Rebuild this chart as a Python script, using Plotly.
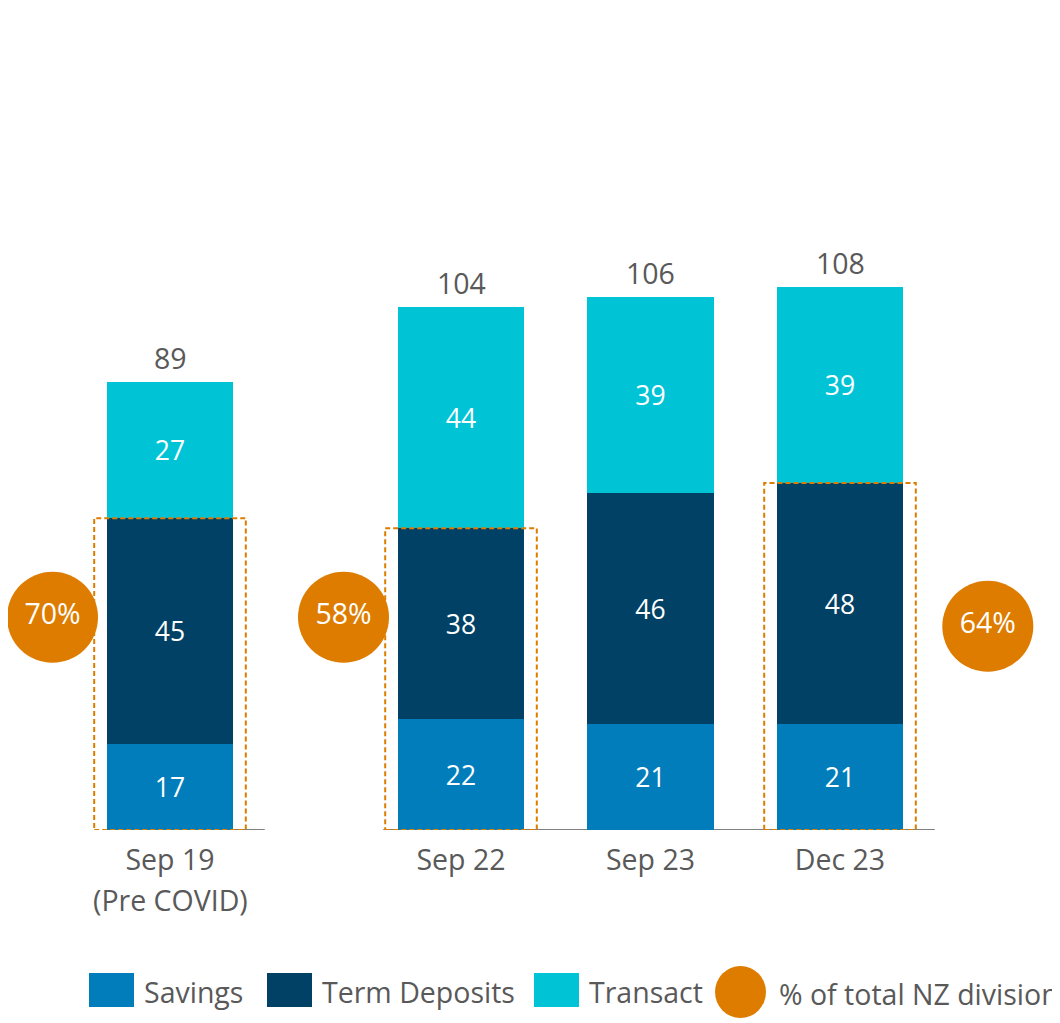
import plotly.graph_objects as go

# deposit balances ($b) by period
pre_labels = ["Sep 19"]
pre_note = "(Pre COVID)"
pre_savings = [17]
pre_term = [45]
pre_transact = [27]

post_labels = ["Sep 22", "Sep 23", "Dec 23"]
post_savings = [22, 21, 21]
post_term = [38, 46, 48]
post_transact = [44, 39, 39]

# % of total NZ division (savings + term deposits), shown as circles
pct_pre = [70]
pct_post = [58, None, 64]

c_sav = "#007DBA"
c_term = "#004165"
c_trans = "#00C4D6"
c_orange = "#DE7C00"
c_text = "#595959"
FONT = "Open Sans"
FS = 28.5      # labels, totals, legend
FS_IN = 26.5   # numbers inside bars

# page has an 8px body margin, so the figure is drawn 8px in from the corner
OFF = 8
W, H = 1060 - OFF, 1023 - OFF
BASE = 830 - OFF          # baseline in figure pixels
PXU = 5.03                # px per $b
scale = 189.5             # px per category

fig = go.Figure()

groups = [
    ("x", "y", pre_savings, pre_term, pre_transact, pct_pre),
    ("x2", "y2", post_savings, post_term, post_transact, pct_post),
]

for xa, ya, sav, term, trans, pct in groups:
    xs = list(range(len(sav)))
    for vals, col in [(sav, c_sav), (term, c_term), (trans, c_trans)]:
        fig.add_trace(go.Bar(
            x=xs, y=vals, xaxis=xa, yaxis=ya,
            width=0.665, marker=dict(color=col, line=dict(width=0)),
            text=vals, textposition="inside", insidetextanchor="middle",
            textfont=dict(color="white", size=FS_IN, family=FONT),
            textangle=0, showlegend=False, hoverinfo="skip"))
    for i in xs:
        tot = sav[i] + term[i] + trans[i]
        fig.add_annotation(x=i, y=tot, xref=xa, yref=ya, text=str(tot),
                           showarrow=False, yanchor="bottom", yshift=3,
                           font=dict(size=FS, color=c_text, family=FONT))
        # dashed box around savings + term deposits
        if pct[i] is not None:
            fig.add_shape(type="rect", xref=xa, yref=ya,
                          x0=i - 0.40, x1=i + 0.40, y0=0, y1=sav[i] + term[i],
                          line=dict(color=c_orange, width=2, dash="5px,3px"),
                          layer="above")
    # baseline
    fig.add_shape(type="line", xref=xa, yref=ya,
                  x0=-0.41 if xa == "x2" else -0.343, x1=len(sav) - 0.5,
                  y0=0, y1=0, line=dict(color="#7F7F7F", width=2), layer="below")
    # percentage circles
    cx, cy, ct = [], [], []
    for i, p in enumerate(pct):
        if p is None:
            continue
        right = len(pct) > 1 and i == len(pct) - 1
        cx.append(i + (0.78 if right else -0.62))
        cy.append(40.5 if right else 42.3)
        ct.append(f"{p}%")
    fig.add_trace(go.Scatter(
        x=cx, y=cy, xaxis=xa, yaxis=ya, mode="markers+text",
        marker=dict(size=91, color=c_orange, line=dict(width=0)),
        text=ct, textposition="middle center",
        textfont=dict(color="white", size=FS, family=FONT),
        cliponaxis=False, showlegend=False, hoverinfo="skip"))

fig.add_annotation(x=0, y=0, xref="x", yref="y", text=pre_note, showarrow=False,
                   yanchor="middle", yshift=-70,
                   font=dict(size=FS, color=c_text, family=FONT))

d1 = (0, 264)
d2 = (272, W)
c1 = 170 - OFF
c2 = 461 - OFF
ydom = [(H - BASE) / H, 1]

fig.update_layout(
    width=W, height=H,
    margin=dict(l=0, r=0, t=0, b=0),
    paper_bgcolor="white", plot_bgcolor="white",
    font=dict(family=FONT, color=c_text, size=FS),
    xaxis=dict(domain=[d1[0] / W, d1[1] / W],
               range=[(d1[0] - c1) / scale, (d1[1] - c1) / scale],
               tickvals=[0], ticktext=pre_labels, showgrid=False,
               zeroline=False, showline=False, ticks="", ticklabelstandoff=10,
               tickfont=dict(size=FS, color=c_text), anchor="y"),
    xaxis2=dict(domain=[d2[0] / W, d2[1] / W],
                range=[(d2[0] - c2) / scale, (d2[1] - c2) / scale],
                tickvals=[0, 1, 2], ticktext=post_labels, showgrid=False,
                zeroline=False, showline=False, ticks="", ticklabelstandoff=10,
                tickfont=dict(size=FS, color=c_text), anchor="y2"),
    yaxis=dict(domain=ydom, range=[0, BASE / PXU], visible=False, anchor="x"),
    yaxis2=dict(domain=ydom, range=[0, BASE / PXU], visible=False, anchor="x2"),
    barmode="stack",
    showlegend=False,
)

# custom legend (reference pixel positions, shifted by the page margin)
def px_x(p):
    return (p - OFF) / W


def px_y(p):
    return 1 - (p - OFF) / H


legend_items = [("Savings", c_sav, 89), ("Term Deposits", c_term, 267), ("Transact", c_trans, 534)]
for name, col, px in legend_items:
    fig.add_shape(type="rect", xref="paper", yref="paper",
                  x0=px_x(px), x1=px_x(px + 45), y0=px_y(1007), y1=px_y(973),
                  fillcolor=col, line=dict(width=0))
    fig.add_annotation(x=px_x(px + 53), y=px_y(992), xref="paper", yref="paper",
                       text=name, showarrow=False, xanchor="left", yanchor="middle",
                       font=dict(size=FS, color=c_text, family=FONT))
fig.add_shape(type="circle", xref="paper", yref="paper",
              x0=px_x(715), x1=px_x(766), y0=px_y(1018), y1=px_y(966),
              fillcolor=c_orange, line=dict(width=0))
fig.add_annotation(x=px_x(777), y=px_y(994), xref="paper", yref="paper",
                   text="% of total NZ division", showarrow=False,
                   xanchor="left", yanchor="middle",
                   font=dict(size=FS, color=c_text, family=FONT))

fig.write_html("out.html")
